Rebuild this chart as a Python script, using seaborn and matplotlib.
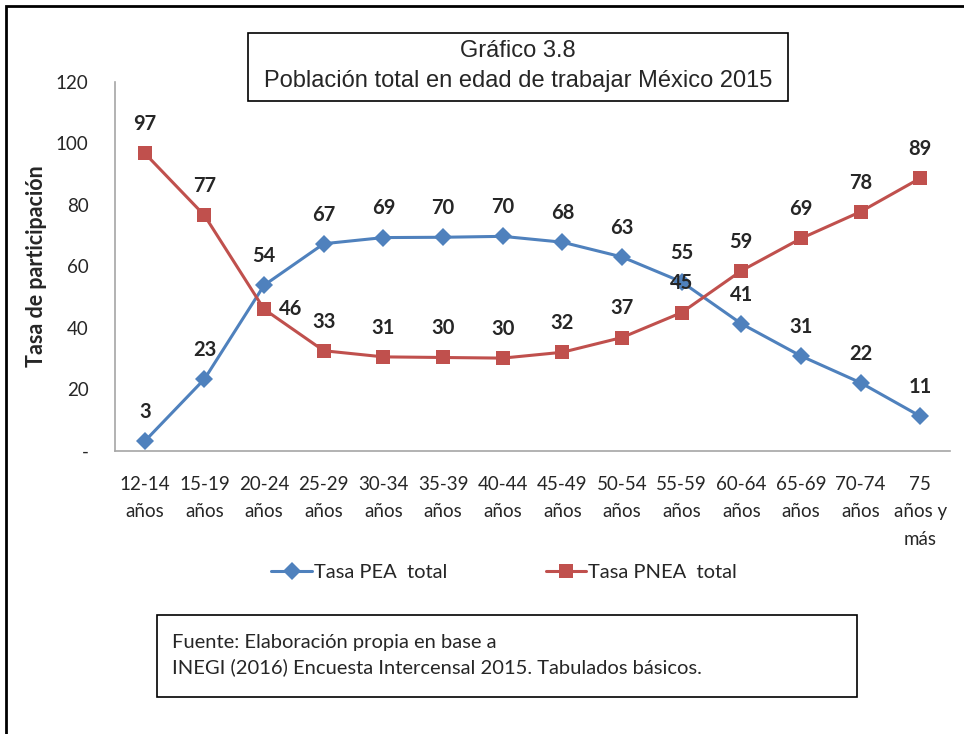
import numpy as np
import pandas as pd
import seaborn as sns
import matplotlib.pyplot as plt
from matplotlib.patches import Rectangle

# data
edades = ["12-14\naños", "15-19\naños", "20-24\naños", "25-29\naños", "30-34\naños",
          "35-39\naños", "40-44\naños", "45-49\naños", "50-54\naños", "55-59\naños",
          "60-64\naños", "65-69\naños", "70-74\naños", "75\naños y\nmás"]
tasa_pea = [3.2, 23.4, 53.9, 67.4, 69.4, 69.5, 69.8, 67.9, 63.1, 55.0, 41.4, 30.9, 22.2, 11.3]
tasa_pnea = [96.8, 76.6, 46.1, 32.6, 30.6, 30.4, 30.2, 32.1, 36.9, 45.0, 58.6, 69.1, 77.8, 88.7]
y_ticks = [0, 20, 40, 60, 80, 100, 120]
y_tick_labels = ["-", "20", "40", "60", "80", "100", "120"]

sns.set_style("white")
plt.rcParams["font.family"] = ["Lato", "DejaVu Sans"]

azul = "#4F81BD"
rojo = "#C0504D"

df = pd.DataFrame({
    "edad": edades * 2,
    "tasa": tasa_pea + tasa_pnea,
    "serie": ["Tasa PEA  total"] * len(edades) + ["Tasa PNEA  total"] * len(edades),
})

fig = plt.figure(figsize=(9.64, 7.34), dpi=100)
ax = fig.add_axes([0.1193, 0.3856, 0.8662, 0.5027])

sns.lineplot(data=df, x="edad", y="tasa", hue="serie", style="serie",
             palette={"Tasa PEA  total": azul, "Tasa PNEA  total": rojo},
             markers={"Tasa PEA  total": "D", "Tasa PNEA  total": "s"},
             dashes=False, linewidth=2.2, markersize=10, markeredgewidth=0,
             sort=False, ax=ax)

for line in ax.lines:
    if line.get_marker() == "D":
        line.set_markersize(9)

ax.set_xlim(-0.5, len(edades) - 0.5)
ax.set_ylim(0, 120)
ax.set_yticks(y_ticks)
ax.set_yticklabels(y_tick_labels)
ax.tick_params(axis="y", length=0, pad=19, labelsize=13.5)
ax.tick_params(axis="x", length=0, pad=18, labelsize=13.5)
for lbl in ax.get_xticklabels():
    lbl.set_linespacing(1.75)
ax.set_xlabel("")
ax.set_ylabel("Tasa de participación", fontsize=15.5, fontweight="bold")
ax.yaxis.set_label_coords(-0.082, 0.5)

for side in ["top", "right"]:
    ax.spines[side].set_visible(False)
for side in ["left", "bottom"]:
    ax.spines[side].set_color("#a6a6a6")
    ax.spines[side].set_linewidth(1.2)

# data labels
for i, v in enumerate(tasa_pea):
    ax.annotate(f"{round(v)}", (i, v), xytext=(0, 21), textcoords="offset points",
                ha="center", va="center", fontsize=14.5, fontweight="bold")
for i, v in enumerate(tasa_pnea):
    if i == 2:
        ax.annotate(f"{round(v)}", (i, v), xytext=(19, 0), textcoords="offset points",
                    ha="center", va="center", fontsize=14.5, fontweight="bold")
    else:
        ax.annotate(f"{round(v)}", (i, v), xytext=(0, 21), textcoords="offset points",
                    ha="center", va="center", fontsize=14.5, fontweight="bold")

ax.get_legend().remove()
handles, labels = ax.get_legend_handles_labels()
fig.legend(handles, labels, loc="center", bbox_to_anchor=(0.523, 1 - 572 / 734), ncol=2,
           frameon=False, fontsize=14.5, columnspacing=4.9, handlelength=2.0,
           handletextpad=0.1)

# title box
fig.text(518 / 964, 1 - 66 / 734, "Gráfico 3.8\nPoblación total en edad de trabajar México 2015",
         ha="center", va="center", fontsize=17, family="Liberation Sans",
         linespacing=1.5)
fig.patches.append(Rectangle((248 / 964, 1 - 101 / 734), 540 / 964, 68 / 734,
                             transform=fig.transFigure, fill=False,
                             edgecolor="black", linewidth=1.2))

# source box
fig.text(172 / 964, 1 - 655 / 734,
         "Fuente: Elaboración propia en base a\nINEGI (2016) Encuesta Intercensal 2015. Tabulados básicos.",
         ha="left", va="center", fontsize=14.5, linespacing=1.5)
fig.patches.append(Rectangle((157 / 964, 1 - 697 / 734), 700 / 964, 82 / 734,
                             transform=fig.transFigure, fill=False,
                             edgecolor="black", linewidth=1.2))

# outer frame
fig.patches.append(Rectangle((6 / 964, -0.05), 1.1, 1.05 - 6 / 734,
                             transform=fig.transFigure, fill=False,
                             edgecolor="black", linewidth=2))

fig.savefig("out.png", dpi=100)
